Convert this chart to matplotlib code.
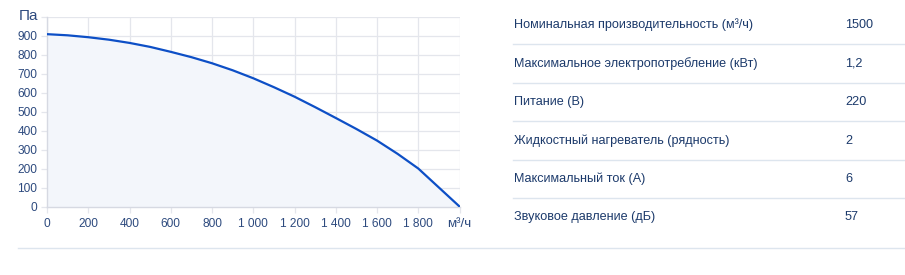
import matplotlib.pyplot as plt
from matplotlib.ticker import FuncFormatter

plt.rcParams['font.family'] = ['Liberation Sans', 'DejaVu Sans']

# fan curve
flow = [0, 100, 200, 300, 400, 500, 600, 700, 800, 900, 1000, 1100, 1200,
        1300, 1400, 1500, 1600, 1700, 1800, 1900, 2000]
pressure = [907, 901, 891, 878, 861, 840, 814, 786, 754, 717, 675, 628, 578,
            523, 466, 408, 347, 277, 200, 100, 0]

x_ticks = [0, 200, 400, 600, 800, 1000, 1200, 1400, 1600, 1800, 2000]
y_ticks = [0, 100, 200, 300, 400, 500, 600, 700, 800, 900, 1000]
x_unit = 'м³/ч'
y_unit = 'Па'

# spec table on the right
spec_names = ['Номинальная производительность (м³/ч)',
              'Максимальное электропотребление (кВт)',
              'Питание (В)',
              'Жидкостный нагреватель (рядность)',
              'Максимальный ток (А)',
              'Звуковое давление (дБ)']
spec_values = ['1500', '1,2', '220', '2', '6', '57']

text_col = '#1c3a6b'
tick_col = '#2d4a7e'
grid_col = '#e4e6ec'
line_col = '#dde5ee'
W, H = 905, 275

fig = plt.figure(figsize=(W / 100, H / 100), dpi=100)
fig.patch.set_facecolor('white')

ax = fig.add_axes([47 / W, (H - 206.5) / H, (459.5 - 47) / W, (206.5 - 16.5) / H])
ax.fill_between(flow, pressure, 0, color='#f3f6fb', zorder=1)
ax.plot(flow, pressure, color='#0d4fc6', lw=1.6, zorder=3, solid_capstyle='round')
ax.set_xlim(0, 2000)
ax.set_ylim(0, 1000)
ax.set_xticks(x_ticks)
ax.set_yticks(y_ticks)


def fmt_x(v, pos):
    if v >= 2000:
        return ''
    return f'{int(v):,}'.replace(',', ' ')


def fmt_y(v, pos):
    if v >= 1000:
        return ''
    return f'{int(v)}'


ax.xaxis.set_major_formatter(FuncFormatter(fmt_x))
ax.yaxis.set_major_formatter(FuncFormatter(fmt_y))
ax.grid(True, color=grid_col, lw=0.9, zorder=0)
ax.set_axisbelow(True)
for s in ['top', 'right']:
    ax.spines[s].set_visible(False)
for s in ['left', 'bottom']:
    ax.spines[s].set_color('#d6d9e2')
    ax.spines[s].set_linewidth(1)
ax.tick_params(axis='both', length=4, width=0.9, color=grid_col,
               labelsize=8.6, labelcolor=tick_col, pad=3)
ax.tick_params(axis='x', pad=4)
ax.text(-0.022, 1000, y_unit, transform=ax.get_yaxis_transform(),
        ha='right', va='center', fontsize=11, color=tick_col)
ax.text(2000, -0.06, x_unit, transform=ax.get_xaxis_transform(),
        ha='center', va='top', fontsize=9.6, color=tick_col)

# table
row_y = [25, 63.5, 102, 140.5, 179, 217]
for name, val, y in zip(spec_names, spec_values, row_y):
    fig.text(514 / W, 1 - y / H, name, ha='left', va='center',
             fontsize=9.1, color=text_col)
    fig.text(845 / W, 1 - y / H, val, ha='left', va='center',
             fontsize=9.1, color=text_col)
for y in [44, 83, 121, 160, 198]:
    fig.add_artist(plt.Line2D([513 / W, 1], [1 - y / H] * 2, color=line_col, lw=1))
fig.add_artist(plt.Line2D([18 / W, 1], [1 - 248 / H] * 2, color=line_col, lw=1))

fig.savefig('out.png', dpi=100)
